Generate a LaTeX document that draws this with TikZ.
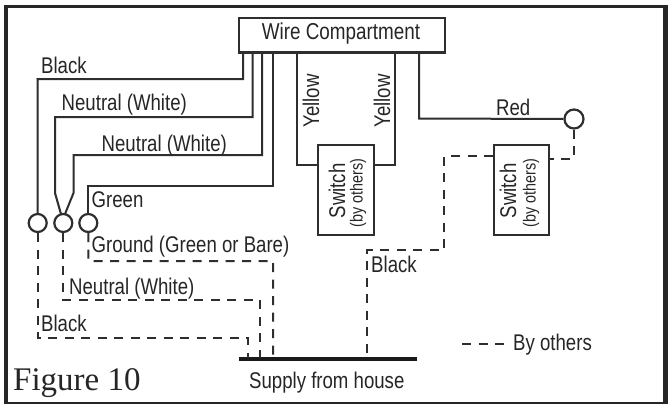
\documentclass[tikz,border=0pt]{standalone}
\usepackage{fontspec}
\setmainfont[FakeStretch=0.82]{Liberation Sans}
\newfontfamily\figfont{Liberation Serif}
\begin{document}
\begin{tikzpicture}[x=1pt,y=-1pt,
  wire/.style={draw=black!82,line width=2pt,line join=miter},
  byothers/.style={draw=black!82,line width=2pt,dash pattern=on 9pt off 7.5pt},
  term/.style={circle,draw=black!82,line width=2.2pt,minimum size=18pt,inner sep=0pt,fill=white},
  boxn/.style={rectangle,draw=black!82,line width=2pt,inner sep=0pt,fill=white},
  lab/.style={inner sep=0pt,text=black!85,font=\fontsize{22.7}{24}\selectfont,anchor=base west},
  vlab/.style={inner sep=0pt,text=black!85,font=\fontsize{22.7}{24}\selectfont,rotate=90,anchor=center}]
\useasboundingbox (0,0) rectangle (668,404);
\fill[white] (0,0) rectangle (668,404);
\draw[black!85,line width=3pt] (6,6.5) -- (665,6.5);
\draw[black!85,line width=2pt] (6,403) -- (665,403);
\draw[black!85,line width=4.5pt] (6,5) -- (6,404);
\draw[black!85,line width=4.5pt] (665.5,5) -- (665.5,404);
% compartments and switches
\node[boxn,minimum width=206pt,minimum height=34pt] (wc) at (342,35.5) {};
\node[lab,anchor=center,font=\fontsize{23}{24}\selectfont] (wct) at (341,33.5) {Wire Compartment};
\node[boxn,minimum width=56pt,minimum height=90pt] (sw1) at (346,190) {};
\node[boxn,minimum width=55pt,minimum height=90pt] (sw2) at (521.5,190) {};
\node[vlab] (sw1a) at (337,191) {Switch};
\node[vlab,font=\fontsize{17.5}{19}\selectfont] (sw1b) at (358,193) {(by others)};
\node[vlab] (sw2a) at (508,191) {Switch};
\node[vlab,font=\fontsize{17.5}{19}\selectfont] (sw2b) at (531,193) {(by others)};
% terminals
\node[term] (t1) at (37.7,223) {};
\node[term] (t2) at (63.3,223) {};
\node[term] (t3) at (88.3,223) {};
\node[term,minimum size=19pt] (t4) at (574,119) {};
% solid wires
\draw[wire] (243,52) -- (243,79) -- (37.5,79) -- (t1.north);
\draw[wire] (252.5,52) -- (252.5,117) -- (55,117) -- (55,193) -- (61,214);
\draw[wire] (262,52) -- (262,155) -- (73.5,155) -- (73.5,193) -- (65,214);
\draw[wire] (273,52) -- (273,186) -- (88.3,186) -- (t3.north);
\draw[wire] (297,52) -- (297,164.5) -- (sw1.west |- 0,164.5);
\draw[wire] (395,52) -- (395,164.5) -- (sw1.east |- 0,164.5);
\draw[wire] (419,52) -- (419,118.5) -- (t4.west);
% supply bar
\coordinate (busl) at (239,359);
\coordinate (busr) at (417,359);
\draw[black!90,line width=4.2pt] (busl) -- (busr);
% dashed wires
\draw[byothers] (t4.south) -- (574,159) -- (sw2.east |- 0,159);
\draw[byothers] (sw2.west |- 0,156) -- (444,156) -- (444,250) -- (367,250) -- (367,358);
\draw[byothers] (t3.south) -- (88.5,261) -- (273,261) -- (273,358);
\draw[byothers] (t2.south) -- (63.3,300) -- (260,300) -- (260,358);
\draw[byothers] (t1.south) -- (37.7,338) -- (248,338) -- (248,358);
\coordinate (lega) at (462,344);
\coordinate (legb) at (507,344);
\draw[byothers] (lega) -- (legb);
% labels
\node[lab] (l1) at (41,73) {Black};
\node[lab] (l2) at (61.5,110) {Neutral (White)};
\node[lab] (l3) at (101.5,151) {Neutral (White)};
\node[lab] (l4) at (91.5,207) {Green};
\node[lab] (l5) at (91.5,252) {Ground (Green or Bare)};
\node[lab] (l6) at (69,294.5) {Neutral (White)};
\node[lab] (l7) at (41,331) {Black};
\node[lab] (l8) at (371,272) {Black};
\node[lab] (l9) at (496,115) {Red};
\node[lab] (l10) at (513,350) {By others};
\node[lab] (l11) at (249,388) {Supply from house};
\node[vlab] (y1) at (311,101) {Yellow};
\node[vlab] (y2) at (382,101) {Yellow};
\node[inner sep=0pt,anchor=base west,font=\figfont\fontsize{33}{35}\selectfont,text=black!85] (fig) at (13,390) {Figure 10};
\end{tikzpicture}
\end{document}
